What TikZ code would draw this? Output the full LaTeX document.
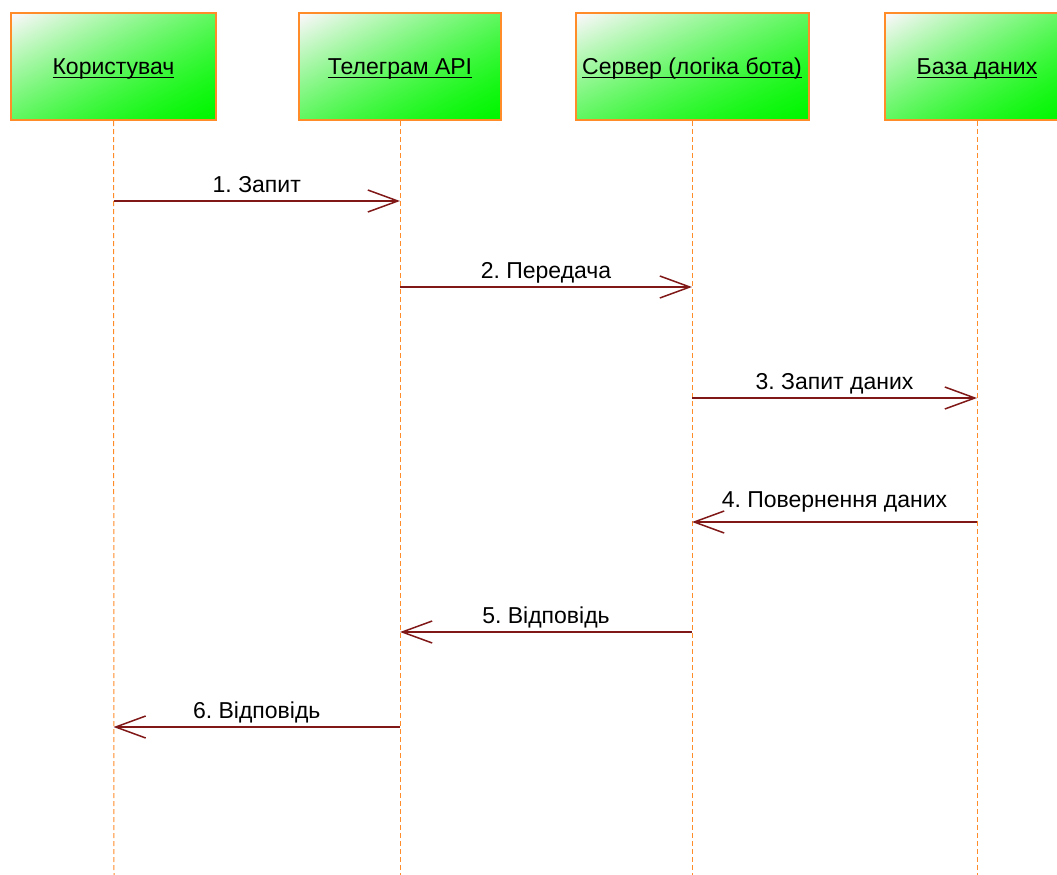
\documentclass[tikz,border=0pt]{standalone}
\usepackage{fontspec}
\setmainfont{Liberation Sans}
\usetikzlibrary{arrows.meta}
\definecolor{boxorange}{RGB}{255,140,40}
\definecolor{msgred}{RGB}{128,24,24}
\pgfdeclarefunctionalshading{diaggreen}{\pgfpointorigin}{\pgfpoint{100bp}{100bp}}{}{
  sub 50 add 100 div
  dup 0 lt {pop 0} if
  dup 1 gt {pop 1} if
  1 exch sub
  1.4 exp
  dup 0.97 exch
}
\newcommand\ulin[1]{\setbox0\hbox{#1}\rlap{\rule[-3.3pt]{\wd0}{1.6pt}}\box0}
\frenchspacing
\begin{document}
\begin{tikzpicture}[x=1pt,y=-1pt,
  actor/.style={draw=boxorange, line width=2pt, shade, shading=diaggreen,
    minimum width=#1, minimum height=107pt, inner sep=0pt,
    text height=21.6pt, text depth=5pt, font=\fontsize{23}{26}\selectfont},
  lifeline/.style={draw=boxorange, line width=1pt, dash pattern=on 5pt off 3pt},
  msg/.style={draw=msgred, line width=1.5pt, -{Straight Barb[length=30pt,width=22pt,line width=1.5pt]}},
  lbl/.style={font=\fontsize{23}{26}\selectfont, inner sep=0pt, anchor=base}
]
\useasboundingbox (0,0) rectangle (1057,875);
\begin{scope}
\clip (0,0) rectangle (1057,875);
% lifeline ends
\coordinate (ue) at (114,875);
\coordinate (te) at (400,875);
\coordinate (se) at (692,875);
\coordinate (de) at (977,875);
% actors
\node[actor=205pt] (user) at (113.5,66.5) {\ulin{Користувач}};
\node[actor=202pt] (tg) at (400,66.5) {\ulin{Телеграм API}};
\node[actor=233pt] (srv) at (692,66.5) {\ulin{Сервер (логіка бота)}};
\node[actor=184pt] (db) at (977,66.5) {\ulin{База даних}};
\draw[lifeline] (user.south) -- (ue);
\draw[lifeline] (tg.south) -- (te);
\draw[lifeline] (srv.south) -- (se);
\draw[lifeline] (db.south) -- (de);
\end{scope}
% message end points
\coordinate (u1) at (user.south |- 0,201);
\coordinate (t1) at (tg.south |- 0,201);
\coordinate (t2) at (tg.south |- 0,287);
\coordinate (s2) at (srv.south |- 0,287);
\coordinate (s3) at (srv.south |- 0,398);
\coordinate (d3) at (db.south |- 0,398);
\coordinate (d4) at (db.south |- 0,522);
\coordinate (s4) at (srv.south |- 0,522);
\coordinate (s5) at (srv.south |- 0,632);
\coordinate (t5) at (tg.south |- 0,632);
\coordinate (t6) at (tg.south |- 0,727);
\coordinate (u6) at (user.south |- 0,727);
\draw[msg] (u1) -- (t1) node[lbl, midway, yshift=9pt] (l1) {1. Запит};
\draw[msg] (t2) -- (s2) node[lbl, midway, yshift=9pt] (l2) {2. Передача};
\draw[msg] (s3) -- (d3) node[lbl, midway, yshift=9pt] (l3) {3. Запит даних};
\draw[msg] (d4) -- (s4) node[lbl, midway, yshift=15pt] (l4) {4. Повернення даних};
\draw[msg] (s5) -- (t5) node[lbl, midway, yshift=9pt] (l5) {5. Відповідь};
\draw[msg] (t6) -- (u6) node[lbl, midway, yshift=9pt] (l6) {6. Відповідь};
\end{tikzpicture}
\end{document}
